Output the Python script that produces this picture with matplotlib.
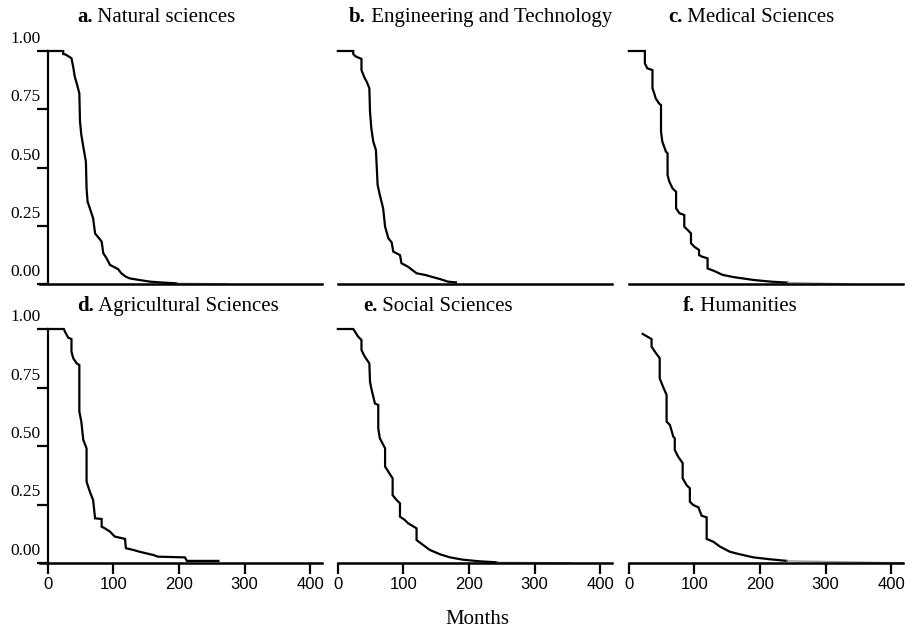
import matplotlib
matplotlib.use("Agg")
import matplotlib.pyplot as plt
from matplotlib.transforms import ScaledTranslation

# survival curves (months, share still surviving)
t_a = [0, 23.4, 23.4, 27, 36, 39, 41, 44, 48, 49, 51, 54, 58, 59, 60.6, 64, 69, 72, 77, 82,
       84.5, 89.6, 94.7, 107, 112, 119, 125, 140, 156, 176, 196]
s_a = [1.0, 1.0, 0.987, 0.985, 0.969, 0.926, 0.89, 0.861, 0.818, 0.697, 0.64, 0.589, 0.525, 0.41,
       0.353, 0.325, 0.282, 0.217, 0.2, 0.182, 0.132, 0.11, 0.082, 0.064, 0.046, 0.031, 0.024,
       0.017, 0.01, 0.006, 0.003]

t_b = [0, 23.4, 23.4, 27, 36, 36, 41, 44, 48, 49, 51, 54, 58, 60.6, 64, 69, 72, 77, 82, 84.5,
       94.7, 97, 107, 120, 133, 145.5, 156, 168, 180]
s_b = [1.0, 1.0, 0.987, 0.977, 0.966, 0.918, 0.883, 0.868, 0.84, 0.74, 0.668, 0.611, 0.575, 0.425,
       0.382, 0.325, 0.246, 0.196, 0.179, 0.139, 0.124, 0.089, 0.074, 0.046, 0.039, 0.029, 0.021,
       0.01, 0.007]

t_c = [0, 24.4, 24.4, 28, 36, 36, 38.7, 41, 46, 49, 49, 51, 56.5, 59, 59, 61.6, 66.7, 72, 72, 77,
       84.5, 84.5, 89.6, 94.7, 94.7, 99.7, 107, 107, 112, 120, 120, 130, 143, 161, 191, 217, 242]
s_c = [1.0, 1.0, 0.947, 0.926, 0.918, 0.84, 0.818, 0.796, 0.775, 0.768, 0.654, 0.611, 0.568, 0.561,
       0.468, 0.44, 0.41, 0.396, 0.325, 0.304, 0.296, 0.246, 0.232, 0.217, 0.175, 0.16, 0.146,
       0.124, 0.117, 0.11, 0.067, 0.056, 0.039, 0.029, 0.017, 0.01, 0.006]

t_d = [0, 24.4, 26, 31, 36, 36, 38.7, 44, 48, 48, 51, 54, 59, 59, 64, 69, 72, 82, 82, 87, 94.7,
       102, 117.6, 119, 130, 140, 150.6, 161, 168, 209, 212, 260]
s_d = [1.0, 1.0, 0.989, 0.963, 0.957, 0.903, 0.875, 0.853, 0.846, 0.647, 0.604, 0.526, 0.49, 0.348,
       0.305, 0.269, 0.191, 0.188, 0.155, 0.148, 0.134, 0.113, 0.103, 0.063, 0.056, 0.048, 0.041,
       0.034, 0.027, 0.024, 0.009, 0.009]

t_e = [0, 23.4, 26, 31, 36, 36, 41, 48, 49, 51, 56.5, 61.6, 61.6, 64, 72, 72, 77, 83.5, 83.5,
       89.6, 94.7, 94.7, 102, 107, 120, 120, 130, 140, 156, 171, 191, 217, 242]
s_e = [1.0, 1.0, 0.989, 0.967, 0.953, 0.91, 0.882, 0.853, 0.775, 0.746, 0.682, 0.675, 0.575, 0.533,
       0.49, 0.412, 0.39, 0.362, 0.29, 0.269, 0.255, 0.198, 0.184, 0.17, 0.148, 0.098, 0.077,
       0.056, 0.037, 0.024, 0.014, 0.007, 0.003]

t_f = [21, 34.6, 34.6, 39.7, 47, 47, 52, 57.5, 57.5, 62.6, 67.7, 70, 70, 75, 82, 82, 88, 93, 93,
       98, 106, 111, 118.6, 118.6, 128.7, 139, 154, 169.5, 190, 215, 241]
s_f = [0.979, 0.957, 0.925, 0.903, 0.875, 0.789, 0.754, 0.718, 0.604, 0.59, 0.54, 0.533, 0.483,
       0.455, 0.427, 0.362, 0.333, 0.319, 0.262, 0.248, 0.238, 0.202, 0.195, 0.103, 0.091, 0.07,
       0.048, 0.037, 0.024, 0.016, 0.009]

letters = ["a.", "b.", "c.", "d.", "e.", "f."]
fields = ["Natural sciences", "Engineering and Technology", "Medical Sciences",
          "Agricultural Sciences", "Social Sciences", "Humanities"]
tail_end = [275, None, 334, None, 357, 418]   # faint grey tail near zero
x_ticks = [0, 100, 200, 300, 400]
y_ticks = [0, 0.25, 0.5, 0.75, 1.0]
y_labels = ["0.00", "0.25", "0.50", "0.75", "1.00"]

curves = [(t_a, s_a), (t_b, s_b), (t_c, s_c), (t_d, s_d), (t_e, s_e), (t_f, s_f)]

serif = "Liberation Serif"
sans = "Liberation Sans"

W, H = 909, 635
fig = plt.figure(figsize=(W / 100, H / 100), dpi=100)

lefts = [40, 330, 621]
bottoms = [284, 563]      # pixel row of y = 0
tops = [51, 329]          # pixel row of y = 1
title_pos = [(77, 17), (349, 17), (668, 17), (77, 306), (363, 306), (683, 306)]

for i in range(6):
    row, col = divmod(i, 3)
    x0 = lefts[col]
    ax = fig.add_axes([x0 / W, (H - bottoms[row]) / H, 282 / W, (bottoms[row] - tops[row]) / H])
    ax.set_xlim(-12, 418)
    ax.set_ylim(0, 1.0)
    ax.patch.set_visible(False)

    t, s = curves[i]
    ax.plot(t, s, color="black", lw=1.6, clip_on=False, solid_joinstyle="miter")
    if tail_end[i] is not None:
        ax.plot([t[-1], tail_end[i]], [s[-1], 0.0008], color="#9a9a9a", lw=1.0, clip_on=False)

    for sp in ["top", "right"]:
        ax.spines[sp].set_visible(False)
    ax.spines["bottom"].set_linewidth(1.8)

    if col == 0:
        ax.spines["left"].set_position(("data", 0))
        ax.spines["left"].set_bounds(0, 1)
        ax.spines["left"].set_linewidth(1.6)
        ax.set_yticks(y_ticks)
        ax.set_yticklabels(y_labels, fontfamily=serif, fontsize=12.5)
        ax.tick_params(axis="y", length=8, width=1.6, pad=-3)
        for lab in ax.get_yticklabels():
            lab.set_transform(lab.get_transform() + ScaledTranslation(0, 0.14, fig.dpi_scale_trans))
    else:
        ax.spines["left"].set_visible(False)
        ax.spines["bottom"].set_bounds(0, 418)
        ax.set_yticks([])

    if row == 1:
        ax.set_xticks(x_ticks)
        ax.set_xticklabels([str(v) for v in x_ticks], fontfamily=sans, fontsize=12)
        ax.tick_params(axis="x", length=8, width=1.6, pad=2)
    else:
        ax.set_xticks([])

    px, py = title_pos[i]
    t1 = fig.text(px / W, 1 - py / H, letters[i], fontfamily=serif, fontweight="bold",
                  fontsize=15, ha="left", va="center")
    ax.annotate(" " + fields[i], xy=(1, 0), xycoords=t1, ha="left", va="bottom",
                fontfamily=serif, fontsize=15, annotation_clip=False)

fig.text(477 / W, 1 - 620 / H, "Months", fontfamily=serif, fontsize=15, ha="center", va="center")

fig.savefig("out.png", dpi=100)
